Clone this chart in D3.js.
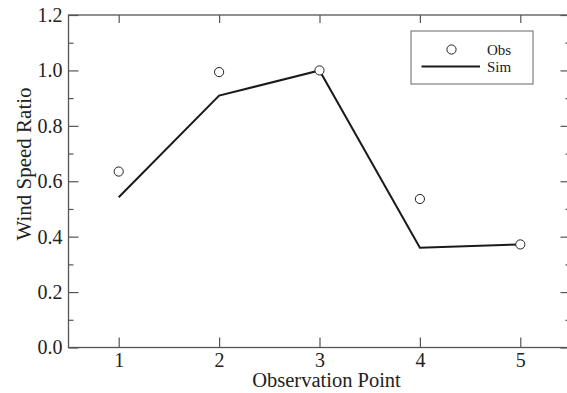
<!DOCTYPE html>
<html>
<head>
<meta charset="utf-8">
<script src="https://cdn.jsdelivr.net/npm/d3@7"></script>
<style>
  body { margin: 0; background: #fff; }
  text { font-family: "Liberation Serif", "Times New Roman", serif; fill: #222; }
</style>
</head>
<body>
<div id="chart"></div>
<script>
// data
var points = [1, 2, 3, 4, 5];
var obs = [0.635, 0.994, 1.0, 0.536, 0.372];
var sim = [0.542, 0.909, 1.0, 0.360, 0.372];
var yTicks = [0.0, 0.2, 0.4, 0.6, 0.8, 1.0, 1.2];
var yMinor = [0.1, 0.3, 0.5, 0.7, 0.9, 1.1];

var width = 567, height = 393;
var margin = {top: 15, right: -3.5, bottom: 45.5, left: 68.5};
var w = width - margin.left - margin.right,
    h = height - margin.top - margin.bottom;

var svg = d3.select("#chart").append("svg")
    .attr("width", width)
    .attr("height", height)
  .append("g")
    .attr("transform", "translate(" + margin.left + "," + margin.top + ")");

var x = d3.scaleLinear().domain([0.5, 5.5]).range([0, w]);
var y = d3.scaleLinear().domain([0, 1.2]).range([h, 0]);

var axisColor = "#555";

// frame
svg.append("rect")
    .attr("width", w).attr("height", h)
    .attr("fill", "none")
    .attr("stroke", axisColor)
    .attr("stroke-width", 1.3);

// bottom axis, ticks pointing inward
var xb = svg.append("g")
    .attr("transform", "translate(0," + h + ")")
    .call(d3.axisBottom(x).tickValues(points).tickSizeInner(-10).tickSizeOuter(0).tickPadding(5).tickFormat(d3.format("d")));
// top axis ticks
var xt = svg.append("g")
    .call(d3.axisTop(x).tickValues(points).tickSizeInner(-8).tickSizeOuter(0).tickFormat(""));

// left axis
var yl = svg.append("g")
    .call(d3.axisLeft(y).tickValues(yTicks).tickSizeInner(-10).tickSizeOuter(0).tickPadding(6).tickFormat(d3.format(".1f")));
var ylm = svg.append("g")
    .call(d3.axisLeft(y).tickValues(yMinor).tickSizeInner(-5).tickSizeOuter(0).tickFormat(""));
// right axis
var yr = svg.append("g")
    .attr("transform", "translate(" + w + ",0)")
    .call(d3.axisRight(y).tickValues(yTicks).tickSizeInner(-10).tickSizeOuter(0).tickFormat(""));
var yrm = svg.append("g")
    .attr("transform", "translate(" + w + ",0)")
    .call(d3.axisRight(y).tickValues(yMinor).tickSizeInner(-5).tickSizeOuter(0).tickFormat(""));

[xb, xt, yl, ylm, yr, yrm].forEach(function(g) {
  g.attr("font-family", null).attr("font-size", null);
  g.select(".domain").remove();
  g.selectAll(".tick line").attr("stroke", axisColor).attr("stroke-width", 1.2);
  g.selectAll(".tick text")
    .style("font-family", '"Liberation Serif", serif')
    .style("font-size", "20px")
    .attr("fill", "#222");
});

// axis titles
svg.append("text")
    .attr("x", 258)
    .attr("y", h + 39.5)
    .attr("text-anchor", "middle")
    .style("font-size", "20.5px")
    .text("Observation Point");

svg.append("text")
    .attr("transform", "translate(" + (-38) + "," + (149) + ") rotate(-90)")
    .attr("text-anchor", "middle")
    .style("font-size", "21px")
    .text("Wind Speed Ratio");

// simulated line
var line = d3.line()
    .x(function(d, i) { return x(points[i]); })
    .y(function(d) { return y(d); });

svg.append("path")
    .datum(sim)
    .attr("fill", "none")
    .attr("stroke", "#1a1a1a")
    .attr("stroke-width", 2)
    .attr("d", line);

// observed points
svg.selectAll(".obs")
    .data(obs)
    .enter().append("circle")
    .attr("class", "obs")
    .attr("cx", function(d, i) { return x(points[i]); })
    .attr("cy", function(d) { return y(d); })
    .attr("r", 4.6)
    .attr("fill", "#fff")
    .attr("stroke", "#222")
    .attr("stroke-width", 1);

// legend
var lg = svg.append("g").attr("transform", "translate(" + (411 - margin.left) + "," + (31 - margin.top) + ")");
lg.append("rect")
    .attr("width", 122).attr("height", 53)
    .attr("fill", "#fff")
    .attr("stroke", "#666")
    .attr("stroke-width", 1);
lg.append("circle")
    .attr("cx", 40.5).attr("cy", 18.5).attr("r", 4.6)
    .attr("fill", "#fff").attr("stroke", "#222").attr("stroke-width", 1);
lg.append("line")
    .attr("x1", 10.5).attr("x2", 69).attr("y1", 35.5).attr("y2", 35.5)
    .attr("stroke", "#1a1a1a").attr("stroke-width", 2);
lg.append("text").attr("x", 76).attr("y", 24).style("font-size", "15px").text("Obs");
lg.append("text").attr("x", 76).attr("y", 41).style("font-size", "15px").text("Sim");
</script>
</body>
</html>
